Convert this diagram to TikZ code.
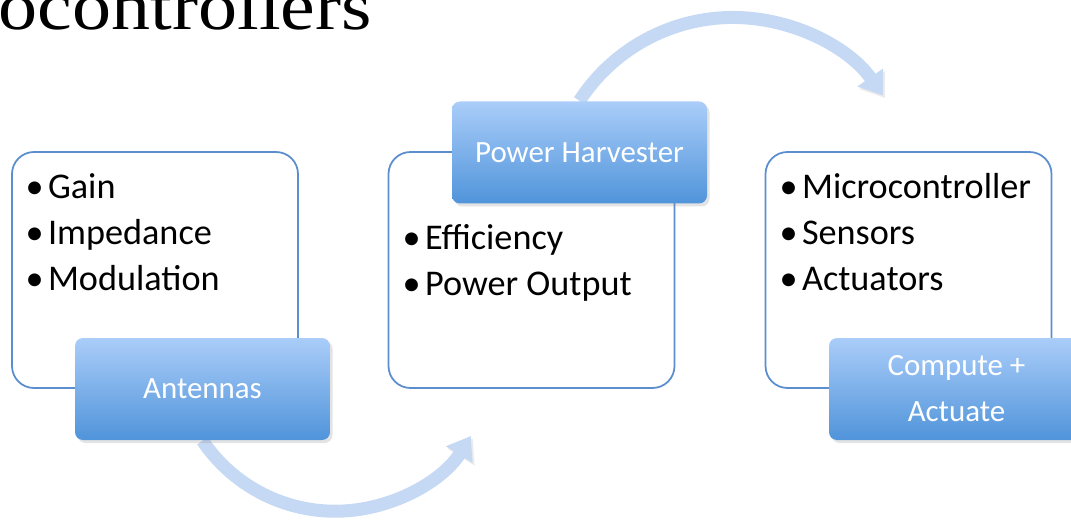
\documentclass[tikz,border=0pt]{standalone}
\usepackage{fontspec}
\setmainfont{Carlito}
\newfontfamily\titlefont{Liberation Serif}
\usetikzlibrary{positioning,arrows.meta,shadows,backgrounds}
\definecolor{boxline}{RGB}{91,142,206}
\definecolor{labeltop}{RGB}{170,205,249}
\definecolor{labelbottom}{RGB}{80,148,218}
\definecolor{flowblue}{RGB}{198,217,244}
\newcommand*{\bul}{•\hspace{0.12em}}
\tikzset{%
  stage/.style={draw=boxline, line width=0.5pt, fill=white, rounded corners=0.22cm,
    minimum width=2.86cm, minimum height=2.36cm},% white stage box
  tag/.style={rounded corners=0.08cm, top color=labeltop, bottom color=labelbottom,
    minimum width=2.55cm, minimum height=1.02cm, text=white, align=center,
    font=\fontsize{8.8}{13.1}\selectfont,
    drop shadow={opacity=0.22, shadow xshift=0.025cm, shadow yshift=-0.03cm}},% blue label
  items/.style={anchor=north west, inner sep=0pt, align=left,
    font=\fontsize{10.3}{13.1}\selectfont},% bullet list
  flow/.style={flowblue, line width=0.13cm, -{Triangle[width=0.3cm,length=0.22cm]},
    preaction={draw=black, opacity=0.08, transform canvas={shift={(0.02,-0.025)}}}}% curved arrow
}

\begin{document}
\begin{tikzpicture}
\clip (0,0) rectangle (10.71,5.25);
\node[anchor=base west, inner sep=0pt, font=\titlefont\fontsize{19.5}{23}\selectfont] (title)
  at (-0.02,4.95) {\scalebox{1.14}[1]{ocontrollers}};

\node[stage] (antbox) at (1.55,2.55) {};
\node[stage] (harvbox) at (5.315,2.55) {};
\node[stage] (compbox) at (9.085,2.55) {};

\node[items] (antlist) at (0.25,3.52) {\bul Gain\\\bul Impedance\\\bul Modulation};
\node[items] (harvlist) at (4.02,3.01) {\bul Efficiency\\\bul Power Output};
\node[items] (complist) at (7.79,3.52) {\bul Microcontroller\\\bul Sensors\\\bul Actuators};

\node[tag] (antennas) at (2.025,1.36) {Antennas};
\node[tag] (harvester) at (5.795,3.725) {Power Harvester};
\node[tag] (compute) at (9.565,1.36) {Compute +\\Actuate};

\begin{scope}[on background layer]
\draw[flow] (antennas.south) arc[start angle=214, end angle=328, radius=1.6];
\draw[flow] (harvester.north) arc[start angle=147, end angle=35, radius=1.83];
\end{scope}

\end{tikzpicture}
\end{document}
